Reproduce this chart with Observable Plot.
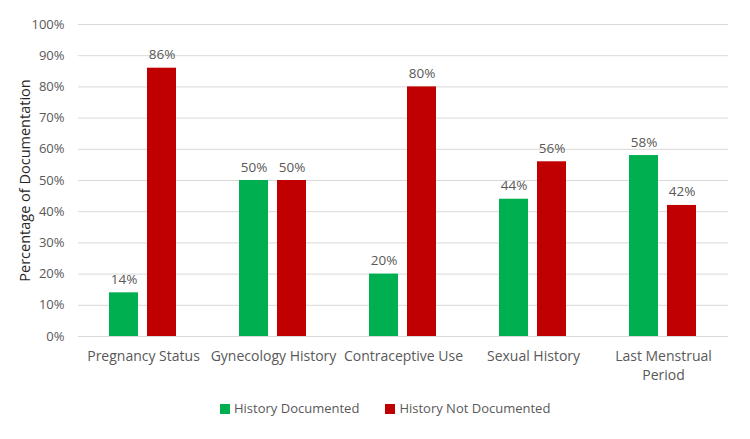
<!DOCTYPE html>
<html>
<head>
<meta charset="utf-8">
<script src="https://cdn.jsdelivr.net/npm/d3@7"></script>
<script src="https://cdn.jsdelivr.net/npm/@observablehq/plot@0.6"></script>
<style>
  body { margin: 0; background: #fff; font-family: "Open Sans", sans-serif; }
  #legend { display: flex; gap: 26px; font-size: 13px; color: #595959; margin-left: 220px; margin-top: 9px; }
  #legend span.sw { display: inline-block; width: 10px; height: 10px; margin-right: 4px; vertical-align: -1px; }
</style>
</head>
<body>
<div id="chart"></div>
<div id="legend"></div>
<script>
const categories = ["Pregnancy Status", "Gynecology History", "Contraceptive Use", "Sexual History", "Last Menstrual Period"];
const tickLabels = ["Pregnancy Status", "Gynecology History", "Contraceptive Use", "Sexual History", "Last Menstrual\nPeriod"];
const series = ["History Documented", "History Not Documented"];
const documented = [14, 50, 20, 44, 58];
const notDocumented = [86, 50, 80, 56, 42];
const colors = ["#00B050", "#C00000"];
const yTicks = [0, 10, 20, 30, 40, 50, 60, 70, 80, 90, 100];

const data = [];
categories.forEach((c, i) => {
  data.push({cat: c, series: series[0], value: documented[i]});
  data.push({cat: c, series: series[1], value: notDocumented[i]});
});
const labelOf = new Map(categories.map((c, i) => [c, tickLabels[i]]));

const chart = Plot.plot({
  width: 750,
  height: 390,
  marginTop: 24,
  marginBottom: 54,
  marginLeft: 76,
  marginRight: 20,
  style: {fontFamily: "Open Sans, sans-serif", fontSize: "13px", color: "#595959"},
  fx: {domain: categories, paddingInner: 0, paddingOuter: 0, label: null, axis: null},
  x: {domain: series, paddingInner: 0.23, paddingOuter: 0.79, axis: null},
  y: {domain: [0, 100]},
  color: {domain: series, range: colors},
  marks: [
    Plot.gridY(yTicks, {stroke: "#d9d9d9", strokeOpacity: 1, strokeWidth: 1}),
    Plot.axisY({ticks: yTicks, tickFormat: d => d + "%", tickSize: 0, tickPadding: 14, fontSize: 13,
      label: "Percentage of Documentation", labelAnchor: "center", labelArrow: "none", labelOffset: 59}),
    Plot.axisFx({anchor: "bottom", tickSize: 0, tickPadding: 11, fontSize: 14, lineHeight: 1.35, tickFormat: d => labelOf.get(d), label: null}),
    Plot.barY(data, {fx: "cat", x: "series", y: "value", fill: "series"}),
    Plot.text(data, {fx: "cat", x: "series", y: "value", text: d => d.value + "%", dy: -9, lineAnchor: "bottom", fontSize: 13.5, fill: "#595959"})
  ]
});
document.getElementById("chart").appendChild(chart);
chart.querySelectorAll("g[aria-label='y-axis label'] text").forEach(t => { t.setAttribute("fill", "#262626"); t.style.fontSize = "14.5px"; });

const legend = document.getElementById("legend");
series.forEach((s, i) => {
  const item = document.createElement("div");
  item.innerHTML = `<span class="sw" style="background:${colors[i]}"></span>${s}`;
  legend.appendChild(item);
});
</script>
</body>
</html>
